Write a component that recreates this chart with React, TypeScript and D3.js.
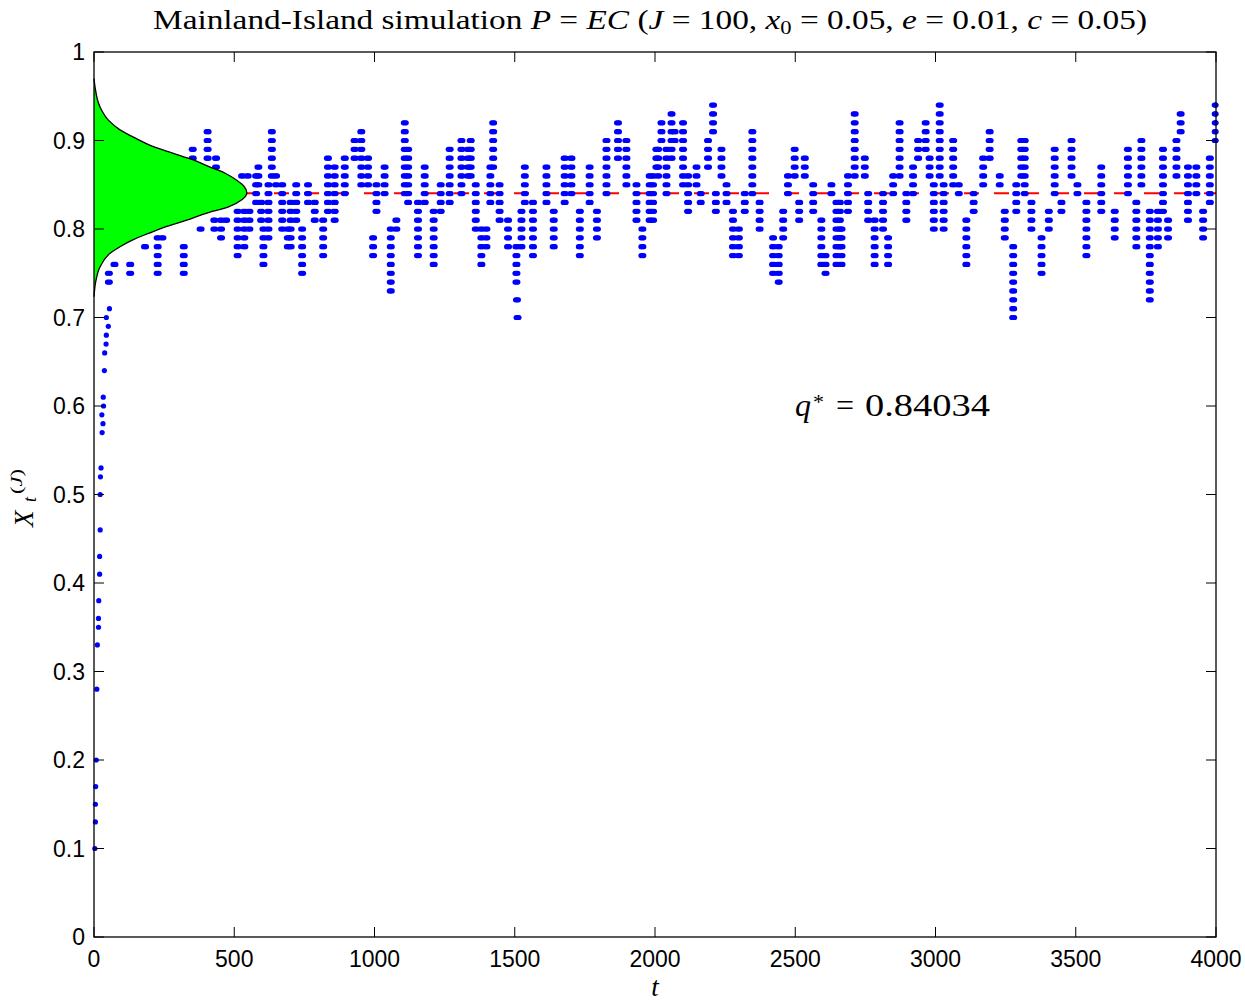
import React from 'react';
import * as d3 from 'd3';

const W = 1245;
const H = 1002;

const xTicks = [0, 500, 1000, 1500, 2000, 2500, 3000, 3500, 4000];
const xTickLabels = ['0', '500', '1000', '1500', '2000', '2500', '3000', '3500', '4000'];
const yTicks = [0, 0.1, 0.2, 0.3, 0.4, 0.5, 0.6, 0.7, 0.8, 0.9, 1];
const yTickLabels = ['0', '0.1', '0.2', '0.3', '0.4', '0.5', '0.6', '0.7', '0.8', '0.9', '1'];

const qStar = 0.84034;
const J = 100;

// initial transient: time and value (in units of 1/J)
const initT = [3, 5, 5, 6, 8, 10, 12, 16, 16, 17, 20, 20, 22, 22, 23, 25, 28, 29, 32, 33, 34, 37, 38, 43, 44, 44, 51, 55];
const initV = [10, 13, 15, 17, 20, 28, 33, 35, 36, 38, 41, 43, 46, 50, 52, 53, 59, 57, 58, 61, 60, 64, 66, 67, 68, 70, 69, 71];

// stacks of visited levels: time, lowest level, highest level (units of 1/J)
const colT = [
  48, 68, 124, 177, 222, 239, 315, 347, 375, 400, 424, 430, 448, 466, 507, 523, 531, 543, 549, 573, 581, 591, 599, 617, 629, 644, 666, 686,
  696, 716, 737, 758, 782, 812, 829, 853, 889, 924, 948, 972, 990, 1002, 1031, 1053, 1073, 1103, 1115, 1150, 1174, 1206, 1231, 1263, 1305,
  1329, 1338, 1356, 1376, 1394, 1408, 1418, 1441, 1471, 1501, 1503, 1505, 1519, 1531, 1560, 1608, 1634, 1673, 1697, 1727, 1762, 1788, 1822, 1863, 1893, 1929, 1950, 1976, 2000,
  1988, 2006, 2018, 2036, 2054, 2065, 2095, 2113, 2143, 2158, 2184, 2202, 2212, 2232, 2250, 2273, 2294, 2315, 2342, 2368, 2416, 2436, 2452, 2469, 2493, 2509, 2529, 2559, 2588, 2603, 2624, 2642,
  2654, 2660, 2683, 2707, 2743, 2755, 2778, 2808, 2826, 2844, 2867, 2891, 2915, 2933, 2960, 2974, 2989, 3010, 3024, 3058, 3078, 3105, 3131, 3165, 3188, 3224, 3242, 3272, 3283, 3301,
  3313, 3337, 3373, 3399, 3420, 3444, 3480, 3501, 3533, 3586, 3634, 3681, 3711, 3729, 3759, 3788, 3806, 3824, 3854, 3869, 3895, 3925, 3949, 3973, 3994,
];
const colLo = [
  74, 76, 75, 78, 75, 79, 75, 88, 80, 88, 80, 87, 79, 81, 77, 86, 78, 86, 80, 83, 85, 81, 76, 79, 86, 85, 80, 78,
  78, 81, 75, 83, 81, 77, 82, 81, 84, 88, 85, 85, 77, 82, 84, 73, 80, 84, 83, 77, 83, 76, 82, 83, 84,
  86, 86, 80, 76, 78, 83, 87, 81, 78, 74, 72, 70, 78, 83, 77, 83, 78, 83, 84, 77, 83, 79, 84, 88, 85, 81, 77, 81, 87,
  81, 86, 90, 84, 88, 90, 85, 82, 85, 83, 87, 91, 82, 86, 83, 77, 77, 82, 84, 80, 75, 74, 79, 84, 86, 81, 86, 82, 76, 75, 84, 76,
  78, 76, 82, 86, 86, 81, 76, 80, 76, 84, 86, 81, 84, 88, 89, 86, 80, 86, 80, 85, 84, 76, 82, 85, 88, 85, 79, 70, 82, 86,
  84, 80, 75, 80, 84, 82, 86, 84, 77, 82, 79, 84, 78, 85, 72, 78, 82, 79, 86, 91, 81, 84, 79, 83, 90,
];
const colHi = [
  75, 76, 76, 78, 79, 79, 78, 89, 80, 91, 81, 88, 81, 81, 82, 86, 82, 86, 82, 86, 87, 83, 80, 85, 91, 86, 85, 80,
  83, 85, 80, 85, 83, 81, 88, 87, 88, 90, 91, 88, 79, 85, 87, 80, 81, 92, 89, 83, 87, 82, 85, 89, 90,
  89, 90, 85, 80, 80, 87, 92, 85, 81, 78, 72, 70, 82, 87, 83, 87, 82, 88, 88, 82, 87, 82, 90, 92, 90, 85, 80, 86, 89,
  86, 89, 92, 89, 93, 91, 92, 86, 87, 84, 90, 94, 84, 89, 85, 82, 80, 84, 91, 83, 79, 78, 82, 86, 89, 83, 88, 85, 81, 77, 85, 83,
  83, 80, 86, 93, 88, 84, 81, 84, 79, 86, 92, 84, 87, 90, 92, 88, 85, 94, 85, 90, 85, 81, 84, 88, 91, 86, 82, 78, 85, 90,
  90, 83, 79, 82, 89, 83, 90, 85, 83, 87, 82, 89, 83, 90, 82, 82, 89, 81, 90, 93, 87, 87, 82, 88, 94,
];
// each level of a stack is held for a few steps
const holdSteps = [0, 5, 10];

// empirical density of the stationary distribution (value, width relative to peak)
const densV = [0.970, 0.961, 0.938, 0.923, 0.912, 0.901, 0.893, 0.8855, 0.878, 0.870, 0.863, 0.855, 0.848, 0.841, 0.833, 0.825, 0.818, 0.810, 0.803, 0.795, 0.788, 0.780, 0.7725, 0.757, 0.742, 0.7235];
const densW = [0, 0.0065, 0.039, 0.094, 0.170, 0.290, 0.388, 0.519, 0.650, 0.760, 0.858, 0.934, 0.982, 1.0, 0.967, 0.880, 0.738, 0.607, 0.476, 0.356, 0.257, 0.170, 0.105, 0.039, 0.013, 0];
const densPeakT = 545;

export default function App() {
  const x = d3.scaleLinear().domain([0, 4000]).range([94, 1216]);
  const y = d3.scaleLinear().domain([0, 1]).range([937, 52]);

  const pts: { t: number; v: number }[] = [];
  initT.forEach((t, i) => pts.push({ t, v: initV[i] / J }));
  colT.forEach((t, i) => {
    for (let l = colLo[i]; l <= colHi[i]; l++) {
      holdSteps.forEach((h) => pts.push({ t: Math.min(4000, t + h), v: l / J }));
    }
  });

  const dens = densV.map((v, i) => ({ v, w: densW[i] }));
  const area = d3
    .area<{ v: number; w: number }>()
    .y((d) => y(d.v))
    .x0(x(0))
    .x1((d) => x(d.w * densPeakT))
    .curve(d3.curveMonotoneY);
  const outline = d3
    .line<{ v: number; w: number }>()
    .y((d) => y(d.v))
    .x((d) => x(d.w * densPeakT))
    .curve(d3.curveMonotoneY);

  const sans = "'Liberation Sans', Arial, Helvetica, sans-serif";
  const serif = "'Liberation Serif', 'Times New Roman', serif";
  const tickLen = 10;

  return (
    <svg
      width={W}
      height={H}
      style={{ position: 'absolute', left: 0, top: 0, display: 'block', background: '#fff' }}
    >
      <rect x={0} y={0} width={W} height={H} fill="#fff" />
      {/* title */}
      <text x={153} y={29} fontFamily={serif} fontSize={28} fill="#000" textLength={994} lengthAdjust="spacingAndGlyphs">
        <tspan>Mainland-Island simulation </tspan>
        <tspan fontStyle="italic">P</tspan>
        <tspan> = </tspan>
        <tspan fontStyle="italic">EC</tspan>
        <tspan> (</tspan>
        <tspan fontStyle="italic">J</tspan>
        <tspan> = 100, </tspan>
        <tspan fontStyle="italic">x</tspan>
        <tspan fontSize={19} dy={5}>0</tspan>
        <tspan dy={-5}> = 0.05, </tspan>
        <tspan fontStyle="italic">e</tspan>
        <tspan> = 0.01, </tspan>
        <tspan fontStyle="italic">c</tspan>
        <tspan> = 0.05)</tspan>
      </text>

      {/* reference level q* */}
      <line x1={x(0)} x2={x(4000)} y1={y(qStar)} y2={y(qStar)} stroke="#ff0000" strokeWidth={2} strokeDasharray="15,15" />

      {/* simulated path */}
      <g fill="#0000ff">
        {pts.map((p, i) => (
          <circle key={i} cx={x(p.t)} cy={y(p.v)} r={2.6} />
        ))}
      </g>

      {/* stationary density */}
      <path d={area(dens) || ''} fill="#00ff00" stroke="none" />
      <path d={outline(dens) || ''} fill="none" stroke="#000" strokeWidth={1.3} />

      {/* axes box and ticks */}
      <rect x={94} y={52} width={1122} height={885} fill="none" stroke="#000" strokeWidth={1.3} />
      {xTicks.map((t) => (
        <g key={'xt' + t}>
          <line x1={x(t)} x2={x(t)} y1={937} y2={937 - tickLen} stroke="#000" strokeWidth={1} />
          <line x1={x(t)} x2={x(t)} y1={52} y2={52 + tickLen} stroke="#000" strokeWidth={1} />
        </g>
      ))}
      {yTicks.map((v) => (
        <g key={'yt' + v}>
          <line x1={94} x2={94 + tickLen} y1={y(v)} y2={y(v)} stroke="#000" strokeWidth={1} />
          <line x1={1216} x2={1216 - tickLen} y1={y(v)} y2={y(v)} stroke="#000" strokeWidth={1} />
        </g>
      ))}
      {xTicks.map((t, i) => (
        <text key={'xl' + t} x={x(t)} y={967} textAnchor="middle" fontFamily={sans} fontSize={23} fill="#000">
          {xTickLabels[i]}
        </text>
      ))}
      {yTicks.map((v, i) => (
        <text key={'yl' + v} x={85} y={y(v) + 8} textAnchor="end" fontFamily={sans} fontSize={23} fill="#000">
          {yTickLabels[i]}
        </text>
      ))}

      {/* axis labels */}
      <text x={655} y={996} textAnchor="middle" fontFamily={serif} fontStyle="italic" fontSize={27} fill="#000">
        t
      </text>
      <text transform="translate(33,527) rotate(-90)" fontFamily={serif} fontStyle="italic" fontSize={27} fill="#000">
        X
      </text>
      <text transform="translate(36,502) rotate(-90)" fontFamily={serif} fontStyle="italic" fontSize={18} fill="#000">
        t
      </text>
      <text transform="translate(22,494) rotate(-90)" fontFamily={serif} fontSize={17} fill="#000" textLength={25} lengthAdjust="spacingAndGlyphs">
        <tspan>(</tspan>
        <tspan fontStyle="italic">J</tspan>
        <tspan>)</tspan>
      </text>

      {/* annotation */}
      <text x={795} y={416} fontFamily={serif} fontStyle="italic" fontSize={32} fill="#000">q</text>
      <text x={813} y={409} fontFamily={serif} fontSize={22} fill="#000">*</text>
      <text x={836} y={416} fontFamily={serif} fontSize={32} fill="#000">=</text>
      <text x={865} y={416} fontFamily={serif} fontSize={32} fill="#000" textLength={125} lengthAdjust="spacingAndGlyphs">
        0.84034
      </text>
    </svg>
  );
}
